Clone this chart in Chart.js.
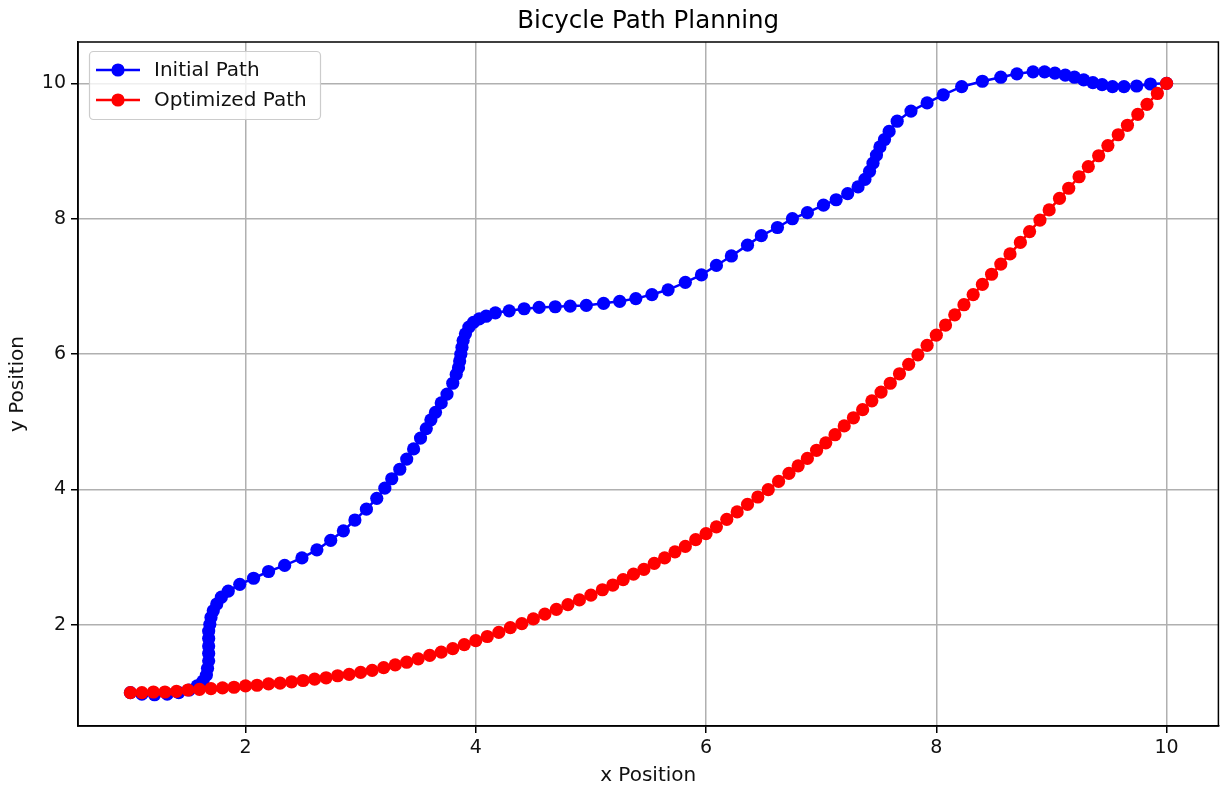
<!DOCTYPE html>
<html>
<head>
<meta charset="utf-8">
<script src="https://cdn.jsdelivr.net/npm/chart.js@4"></script>
<style>
  body { margin: 0; background: #fff; }
  #wrap { width: 1225px; height: 789px; }
</style>
</head>
<body>
<div id="wrap"><canvas id="chart"></canvas></div>
<script>
// values
const initialX = [1.00, 1.10, 1.21, 1.32, 1.42, 1.51, 1.58, 1.63, 1.66, 1.67,
  1.68, 1.68, 1.68, 1.68, 1.68, 1.69, 1.70, 1.72, 1.75, 1.79,
  1.85, 1.95, 2.07, 2.20, 2.34, 2.49, 2.62, 2.74, 2.85, 2.95,
  3.05, 3.14, 3.21, 3.27, 3.34, 3.40, 3.46, 3.52, 3.57, 3.61,
  3.65, 3.70, 3.75, 3.80, 3.83, 3.85, 3.86, 3.87, 3.88, 3.89,
  3.91, 3.94, 3.98, 4.03, 4.09, 4.17, 4.29, 4.42, 4.55, 4.69,
  4.82, 4.96, 5.11, 5.25, 5.39, 5.53, 5.67, 5.82, 5.96, 6.09,
  6.22, 6.36, 6.48, 6.62, 6.75, 6.88, 7.02, 7.13, 7.23, 7.32,
  7.38, 7.42, 7.45, 7.48, 7.51, 7.55, 7.59, 7.66, 7.78, 7.92,
  8.06, 8.22, 8.40, 8.56, 8.70, 8.84, 8.94, 9.03, 9.12, 9.20,
  9.28, 9.36, 9.44, 9.53, 9.63, 9.74, 9.86, 10.00];
const initialY = [1.00, 0.98, 0.97, 0.98, 1.00, 1.04, 1.10, 1.17, 1.26, 1.36,
  1.47, 1.58, 1.69, 1.80, 1.91, 2.01, 2.11, 2.21, 2.31, 2.41,
  2.50, 2.60, 2.69, 2.79, 2.88, 2.99, 3.11, 3.25, 3.39, 3.55,
  3.71, 3.87, 4.02, 4.16, 4.30, 4.45, 4.60, 4.76, 4.90, 5.03,
  5.14, 5.28, 5.41, 5.57, 5.70, 5.80, 5.90, 6.00, 6.10, 6.20,
  6.30, 6.40, 6.47, 6.52, 6.56, 6.61, 6.64, 6.67, 6.69, 6.70,
  6.71, 6.72, 6.75, 6.78, 6.82, 6.88, 6.95, 7.06, 7.17, 7.31,
  7.45, 7.61, 7.75, 7.87, 8.00, 8.09, 8.20, 8.28, 8.37, 8.47,
  8.58, 8.70, 8.82, 8.94, 9.06, 9.17, 9.29, 9.44, 9.59, 9.71,
  9.83, 9.95, 10.03, 10.09, 10.14, 10.17, 10.17, 10.15, 10.12, 10.09,
  10.05, 10.01, 9.98, 9.95, 9.95, 9.96, 9.99, 10.00];

const optimizedX = [1.0, 1.1, 1.2, 1.3, 1.4, 1.5, 1.6, 1.7, 1.8, 1.9,
  2.0, 2.1, 2.2, 2.3, 2.4, 2.5, 2.6, 2.7, 2.8, 2.9,
  3.0, 3.1, 3.2, 3.3, 3.4, 3.5, 3.6, 3.7, 3.8, 3.9,
  4.0, 4.1, 4.2, 4.3, 4.4, 4.5, 4.6, 4.7, 4.8, 4.9,
  5.0, 5.1, 5.19, 5.28, 5.37, 5.46, 5.55, 5.64, 5.73, 5.82,
  5.91, 6.00, 6.09, 6.18, 6.27, 6.36, 6.45, 6.54, 6.63, 6.72,
  6.80, 6.88, 6.96, 7.04, 7.12, 7.20, 7.28, 7.36, 7.44, 7.52,
  7.60, 7.68, 7.76, 7.84, 7.92, 8.00, 8.08, 8.16, 8.24, 8.32,
  8.40, 8.48, 8.56, 8.64, 8.73, 8.81, 8.90, 8.98, 9.07, 9.15,
  9.24, 9.32, 9.41, 9.49, 9.58, 9.66, 9.75, 9.83, 9.92, 10.0];
const optimizedY = [1.00, 1.00, 1.01, 1.01, 1.02, 1.04, 1.05, 1.06, 1.07, 1.08,
  1.10, 1.11, 1.13, 1.14, 1.16, 1.18, 1.20, 1.22, 1.25, 1.27,
  1.30, 1.33, 1.37, 1.41, 1.45, 1.50, 1.55, 1.60, 1.65, 1.71,
  1.77, 1.83, 1.89, 1.96, 2.02, 2.09, 2.16, 2.23, 2.30, 2.37,
  2.44, 2.52, 2.59, 2.67, 2.75, 2.82, 2.91, 2.99, 3.08, 3.16,
  3.26, 3.35, 3.45, 3.56, 3.67, 3.78, 3.89, 4.00, 4.12, 4.24,
  4.35, 4.46, 4.58, 4.69, 4.81, 4.94, 5.06, 5.18, 5.31, 5.44,
  5.57, 5.71, 5.85, 5.99, 6.13, 6.28, 6.43, 6.58, 6.73, 6.88,
  7.03, 7.18, 7.33, 7.48, 7.65, 7.81, 7.98, 8.13, 8.30, 8.45,
  8.62, 8.77, 8.93, 9.08, 9.24, 9.38, 9.54, 9.69, 9.85, 10.00];

const xTicks = [2, 4, 6, 8, 10];
const yTicks = [2, 4, 6, 8, 10];
const seriesNames = ['Initial Path', 'Optimized Path'];
const seriesColors = ['#0000ff', '#ff0000'];

const FONT = 'DejaVu Sans';
const MARKER = 6.6;

function toPoints(xs, ys) {
  return xs.map((x, i) => ({ x: x, y: ys[i] }));
}

// box around the axes and the legend in the upper left corner
const framePlugin = {
  id: 'frame',
  afterDatasetsDraw(chart) {
    const { ctx, chartArea: a } = chart;
    ctx.save();
    ctx.strokeStyle = '#000';
    ctx.lineWidth = 1.5;
    ctx.strokeRect(a.left, a.top, a.right - a.left, a.bottom - a.top);

    // legend
    const lx = 89.5, ly = 51.5, lw = 231, lh = 68, r = 4;
    ctx.beginPath();
    ctx.roundRect(lx, ly, lw, lh, r);
    ctx.fillStyle = 'rgba(255,255,255,0.8)';
    ctx.fill();
    ctx.strokeStyle = '#cccccc';
    ctx.lineWidth = 1.2;
    ctx.stroke();
    seriesNames.forEach((name, i) => {
      const y = 70 + i * 30;
      ctx.strokeStyle = seriesColors[i];
      ctx.lineWidth = 2.5;
      ctx.beginPath();
      ctx.moveTo(96, y);
      ctx.lineTo(140, y);
      ctx.stroke();
      ctx.fillStyle = seriesColors[i];
      ctx.beginPath();
      ctx.arc(118, y, MARKER, 0, Math.PI * 2);
      ctx.fill();
      ctx.fillStyle = '#111';
      ctx.font = '20px "' + FONT + '"';
      ctx.textBaseline = 'middle';
      ctx.textAlign = 'left';
      ctx.fillText(name, 154, y + 1);
    });
    ctx.restore();
  }
};

const tickFont = { family: FONT, size: 19 };

new Chart(document.getElementById('chart'), {
  type: 'scatter',
  data: {
    datasets: [
      {
        label: seriesNames[0],
        data: toPoints(initialX, initialY),
        showLine: true,
        borderColor: seriesColors[0],
        backgroundColor: seriesColors[0],
        borderWidth: 2.5,
        pointRadius: MARKER,
        pointBorderWidth: 0,
        order: 2
      },
      {
        label: seriesNames[1],
        data: toPoints(optimizedX, optimizedY),
        showLine: true,
        borderColor: seriesColors[1],
        backgroundColor: seriesColors[1],
        borderWidth: 2.5,
        pointRadius: MARKER,
        pointBorderWidth: 0,
        order: 1
      }
    ]
  },
  options: {
    responsive: true,
    maintainAspectRatio: false,
    animation: false,
    layout: { padding: { left: 0, right: 1, top: 0, bottom: 0 } },
    plugins: {
      legend: { display: false },
      tooltip: { enabled: false },
      title: {
        display: true,
        fullSize: false,
        text: 'Bicycle Path Planning',
        color: '#000',
        font: { family: FONT, size: 24.5, weight: 'normal' },
        padding: { top: 6.6, bottom: 6 }
      }
    },
    scales: {
      x: {
        type: 'linear',
        min: 0.545,
        max: 10.45,
        afterBuildTicks: axis => { axis.ticks = xTicks.map(v => ({ value: v })); },
        afterFit: s => { s.height = 63; },
        grid: { color: '#b0b0b0', lineWidth: 1.5, tickColor: '#000', tickLength: 7, tickWidth: 1.5 },
        border: { color: '#000', width: 1.5 },
        ticks: { font: tickFont, color: '#111', padding: 4, maxRotation: 0 },
        title: { display: true, text: 'x Position', color: '#111', font: { family: FONT, size: 20 }, padding: { top: 0, bottom: 1 } }
      },
      y: {
        type: 'linear',
        min: 0.508,
        max: 10.61,
        afterBuildTicks: axis => { axis.ticks = yTicks.map(v => ({ value: v })); },
        afterFit: s => { s.width = 78; },
        grid: { color: '#b0b0b0', lineWidth: 1.5, tickColor: '#000', tickLength: 7, tickWidth: 1.5 },
        border: { color: '#000', width: 1.5 },
        ticks: { font: tickFont, color: '#111', padding: 5 },
        title: { display: true, text: 'y Position', color: '#111', font: { family: FONT, size: 20 }, padding: { top: 6, bottom: 0 } }
      }
    }
  },
  plugins: [framePlugin]
});
</script>
</body>
</html>
